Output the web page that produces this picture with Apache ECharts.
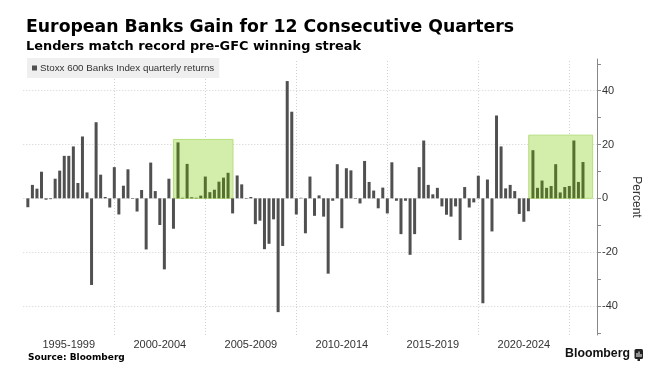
<!DOCTYPE html>
<html>
<head>
<meta charset="utf-8">
<style>html,body{margin:0;padding:0;background:#fff;}#c{width:660px;height:372px;}</style>
<script src="https://cdn.jsdelivr.net/npm/echarts@6/dist/echarts.min.js"></script>
</head>
<body>
<div id="c"></div>
<script>
// ---- data ----
const seriesName = 'Stoxx 600 Banks Index quarterly returns';
const firstYear = 1995;              // first bar = 1995 Q1
const quarterlyReturns = [
  -3.3, 5.0, 3.6, 9.9, -0.5, -0.3, 7.3, 10.3, 15.8, 15.8, 19.3, 5.7, 23.0, 2.2, -32.2, 28.3, 8.8, 0.5, -3.4, 11.6,
  -6.0, 4.7, 10.8, -0.2, -4.9, 3.1, -19.0, 13.3, 2.7, -9.9, -26.4, 7.3, -11.3, 20.8, 0.2, 12.8, 0.4, 0.2, 1.0, 8.1,
  2.3, 3.2, 6.2, 7.7, 9.5, -5.6, 8.5, 5.2, -0.2, 0.5, -9.6, -8.3, -18.9, -16.9, -7.8, -42.3, -17.7, 43.6, 32.2, -6.0,
  0.2, -13.0, 8.1, -6.5, 1.1, -6.8, -28.0, -0.9, 12.7, -11.1, 11.2, 10.4, -0.2, -1.9, 13.9, 6.1, 2.9, -3.7, 4.0, -5.6,
  13.4, -0.9, -13.3, -0.9, -21.0, -13.3, 11.6, 21.5, 5.0, 1.5, 3.9, -3.0, -6.1, -6.8, -3.0, -15.5, 4.2, -3.4, -1.5, 8.4,
  -39.0, 7.0, -12.3, 30.8, 19.3, 3.7, 5.0, 2.7, -5.8, -8.7, -4.8, 17.9, 3.9, 6.6, 3.9, 4.6, 12.7, 2.2, 4.2, 4.6,
  21.5, 6.1, 13.5
];
// winning streaks: [first quarter index, last quarter index]
const streaks = [[33, 44], [111, 122]];
// highlight boxes: [from (year), to (year), top (%)]
const streakBoxes = [[2003.25, 2006.52, 21.9], [2022.77, 2026.28, 23.5]];
const periodLabels = ['1995-1999', '2000-2004', '2005-2009', '2010-2014', '2015-2019', '2020-2024'];
const periodBreaks = [2000, 2005, 2010, 2015, 2020, 2025];
const yTicks = [-50, -40, -30, -20, -10, 0, 10, 20, 30, 40, 50];
const yLabels = [-40, -20, 0, 20, 40];

// ---- build ----
const inStreak = i => streaks.some(s => i >= s[0] && i <= s[1]);
const barData = quarterlyReturns.map((v, i) => ({
  value: [firstYear + (i + 1) / 4, v],
  itemStyle: { color: inStreak(i) ? '#56702f' : '#505050' }
}));

const chart = echarts.init(document.getElementById('c'), null, { renderer: 'canvas' });
const gridLine = { color: '#d0d0d0', width: 1, type: [1, 2] };

chart.setOption({
  animation: false,
  backgroundColor: '#ffffff',
  title: [
    { text: 'European Banks Gain for 12 Consecutive Quarters', left: 26, top: 19, padding: 0,
      textStyle: { fontFamily: 'DejaVu Sans', fontWeight: 'bold', fontSize: 17.3, color: '#000' } },
    { text: 'Lenders match record pre-GFC winning streak', left: 26, top: 40, padding: 0,
      textStyle: { fontFamily: 'DejaVu Sans', fontWeight: 'bold', fontSize: 12.9, color: '#000' } }
  ],
  legend: {
    data: [seriesName], left: 27, top: 58, orient: 'horizontal',
    backgroundColor: '#efefef', padding: [5, 5, 5, 5],
    icon: 'rect', itemWidth: 5, itemHeight: 5,
    itemStyle: { color: '#505050' },
    textStyle: { fontFamily: 'Liberation Sans', fontSize: 9.8, color: '#333', padding: [0, 0, 0, -2] }
  },
  grid: { left: 23.3, right: 63, top: 59, bottom: 37, containLabel: false },
  xAxis: {
    type: 'value', min: firstYear, max: 2026.52, interval: 2.5,
    axisLine: { show: false }, axisTick: { show: false }, splitLine: { show: false },
    axisLabel: {
      fontFamily: 'Liberation Sans', fontSize: 11, color: '#333', margin: 4,
      formatter: v => {
        const k = (v - firstYear - 2.5) / 5;
        return Math.abs(k - Math.round(k)) < 1e-6 && periodLabels[Math.round(k)] ? periodLabels[Math.round(k)] : '';
      }
    }
  },
  yAxis: {
    type: 'value', position: 'right', min: -50.8, max: 51.8,
    name: 'Percent', nameLocation: 'middle', nameRotate: -90, nameGap: 33,
    nameTextStyle: { fontFamily: 'Liberation Sans', fontSize: 12, color: '#333' },
    axisLine: { show: true, lineStyle: { color: '#888', width: 1 } },
    axisTick: { show: true, length: 4, lineStyle: { color: '#888' }, customValues: yTicks },
    axisLabel: { fontFamily: 'Liberation Sans', fontSize: 11, color: '#333', margin: 5, customValues: yLabels },
    splitLine: { show: false }
  },
  series: [
    {
      name: seriesName, type: 'bar', barWidth: 3, z: 3,
      data: barData,
      markArea: {
        silent: true, z: 2,
        itemStyle: { color: '#d3edab', borderColor: '#b7de7e', borderWidth: 1 },
        data: streakBoxes.map(b => [{ xAxis: b[0], yAxis: 0 }, { xAxis: b[1], yAxis: b[2] }])
      },
      markLine: {
        silent: true, symbol: 'none', z: 1, label: { show: false },
        lineStyle: gridLine,
        data: periodBreaks.map(x => ({ xAxis: x })).concat(yLabels.map(y => ({ yAxis: y })))
      }
    }
  ],
  graphic: [
    { type: 'text', left: 28, top: 353,
      style: { text: 'Source: Bloomberg', fontFamily: 'DejaVu Sans', fontWeight: 'bold', fontSize: 9, fill: '#000' } },
    { type: 'text', right: 30, top: 348,
      style: { text: 'Bloomberg', fontFamily: 'Liberation Sans', fontWeight: 'bold', fontSize: 12.3, fill: '#111' } },
    { type: 'group', right: 17, top: 349, children: [
      { type: 'rect', shape: { x: 0, y: 0, width: 8.5, height: 10, r: 1.5 }, style: { fill: '#222' } },
      { type: 'rect', shape: { x: 2, y: 4, width: 1, height: 4 }, style: { fill: '#fff' } },
      { type: 'rect', shape: { x: 4, y: 2.5, width: 1, height: 5.5 }, style: { fill: '#fff' } },
      { type: 'rect', shape: { x: 6, y: 5, width: 1, height: 3 }, style: { fill: '#fff' } },
      { type: 'rect', shape: { x: 3, y: 10, width: 2.5, height: 2 }, style: { fill: '#222' } }
    ] }
  ]
});
</script>
</body>
</html>
